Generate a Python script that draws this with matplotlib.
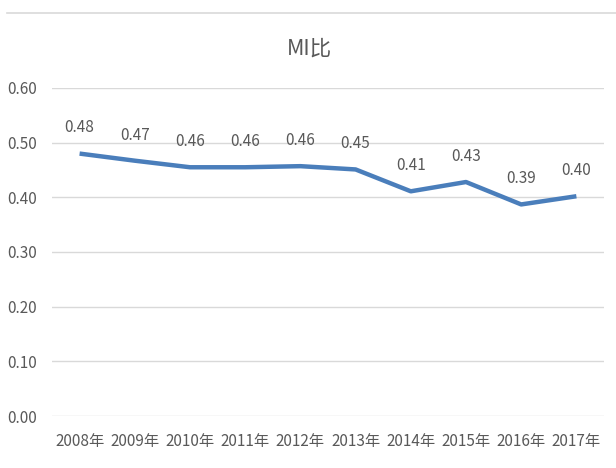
import matplotlib
matplotlib.use("Agg")
import matplotlib.pyplot as plt
from matplotlib.lines import Line2D

plt.rcParams['font.family'] = ['Noto Sans CJK SC', 'DejaVu Sans']

years = ["2008年", "2009年", "2010年", "2011年", "2012年",
         "2013年", "2014年", "2015年", "2016年", "2017年"]
mi_ratio = [0.480, 0.467, 0.455, 0.455, 0.457, 0.451, 0.411, 0.428, 0.387, 0.402]
labels = ["0.48", "0.47", "0.46", "0.46", "0.46", "0.45", "0.41", "0.43", "0.39", "0.40"]
yticks = [0.0, 0.1, 0.2, 0.3, 0.4, 0.5, 0.6]
title = "MI比"

txt = "#595959"
fig = plt.figure(figsize=(6.16, 4.68), dpi=100)
ax = fig.add_axes([0.0844, 0.1111, 0.8961, 0.7009])

x = list(range(len(years)))
ax.plot(x, mi_ratio, color="#4A7EBB", linewidth=3.2, solid_capstyle="butt", zorder=3)
for xi, v, lb in zip(x, mi_ratio, labels):
    ax.annotate(lb, (xi, v), xytext=(0, 18.5), textcoords="offset points",
                ha="center", va="center", fontsize=11, color=txt)

ax.set_xlim(-0.5, len(years) - 0.5)
ax.set_ylim(0, 0.6)
ax.set_yticks(yticks)
ax.set_yticklabels([f"{t:.2f}" for t in yticks])
ax.set_xticks(x)
ax.set_xticklabels(years)
ax.tick_params(axis="both", length=0, labelsize=11, colors=txt)
ax.tick_params(axis="y", pad=11)
ax.tick_params(axis="x", pad=12)
ax.grid(axis="y", color="#d9d9d9", linewidth=1)
ax.set_axisbelow(True)
for s in ax.spines.values():
    s.set_visible(False)

fig.text(0.503, 0.897, title, ha="center", va="center", fontsize=15.5, color=txt)
fig.add_artist(Line2D([0.011, 1.0], [0.972, 0.972], transform=fig.transFigure,
                      color="#d9d9d9", linewidth=1.2))

fig.savefig("out.png", dpi=100)
